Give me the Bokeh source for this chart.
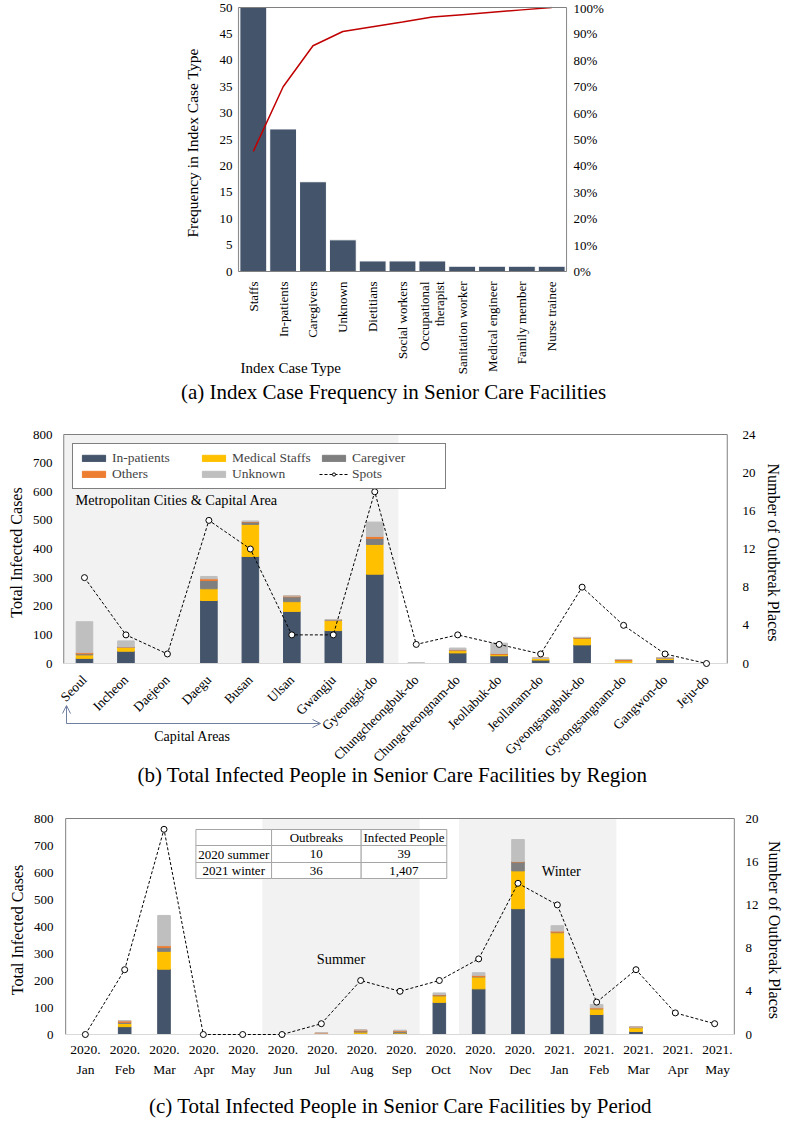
import math
from bokeh.plotting import figure
from bokeh.models import (Range1d, LinearAxis, FixedTicker, PrintfTickFormatter,
                          Arrow, OpenHead, BoxAnnotation, ColumnDataSource)
from bokeh.core.properties import value
from bokeh.embed import file_html
from bokeh.resources import INLINE

FONT = "Liberation Serif"

# ---------------- data: panel (a) ----------------
index_types = ["Staffs", "In-patients", "Caregivers", "Unknown", "Dietitians", "Social workers",
               "Occupational\ntherapist", "Sanitation worker", "Medical engineer", "Family member",
               "Nurse trainee"]
index_freq = [50, 27, 17, 6, 2, 2, 2, 1, 1, 1, 1]
index_cum_pct = [45.5, 70.0, 85.5, 90.9, 92.7, 94.5, 96.4, 97.3, 98.2, 99.1, 100.0]

# ---------------- data: panel (b) ----------------
regions = ["Seoul", "Incheon", "Daejeon", "Daegu", "Busan", "Ulsan", "Gwangju", "Gyeonggi-do",
           "Chungcheongbuk-do", "Chungcheongnam-do", "Jeollabuk-do", "Jeollanam-do",
           "Gyeongsangbuk-do", "Gyeongsangnam-do", "Gangwon-do", "Jeju-do"]
reg_inpatients = [18, 43, 0, 220, 374, 182, 115, 312, 0, 37, 27, 12, 65, 0, 14, 0]
reg_staffs = [12, 13, 0, 41, 112, 34, 35, 104, 0, 8, 5, 6, 24, 10, 4, 0]
reg_caregiver = [4, 2, 0, 29, 8, 17, 3, 21, 0, 2, 0, 0, 0, 0, 2, 0]
reg_others = [4, 0, 0, 6, 2, 3, 0, 7, 0, 1, 3, 0, 2, 4, 0, 0]
reg_unknown = [108, 21, 0, 8, 2, 0, 0, 50, 3, 6, 36, 0, 0, 0, 0, 0]
reg_spots = [9, 3, 1, 15, 12, 3, 3, 18, 2, 3, 2, 1, 8, 4, 1, 0]

# ---------------- data: panel (c) ----------------
months = ["2020.\nJan", "2020.\nFeb", "2020.\nMar", "2020.\nApr", "2020.\nMay", "2020.\nJun",
          "2020.\nJul", "2020.\nAug", "2020.\nSep", "2020.\nOct", "2020.\nNov", "2020.\nDec",
          "2021.\nJan", "2021.\nFeb", "2021.\nMar", "2021.\nApr", "2021.\nMay"]
mon_inpatients = [0, 29, 242, 0, 0, 0, 0, 3, 5, 119, 169, 466, 284, 74, 11, 0, 0]
mon_staffs = [0, 12, 66, 0, 0, 0, 0, 6, 2, 24, 44, 140, 93, 21, 14, 0, 0]
mon_caregiver = [0, 4, 14, 0, 0, 0, 0, 4, 5, 3, 2, 33, 2, 1, 3, 0, 0]
mon_others = [0, 6, 7, 0, 0, 0, 6, 4, 2, 2, 4, 2, 4, 3, 0, 0, 0]
mon_unknown = [0, 0, 112, 0, 0, 0, 0, 0, 2, 6, 10, 81, 20, 12, 0, 0, 0]
mon_spots = [0, 6, 19, 0, 0, 0, 1, 5, 4, 5, 7, 14, 12, 3, 6, 2, 1]

table_header = ["", "Outbreaks", "Infected People"]
table_periods = ["2020 summer", "2021 winter"]
table_outbreaks = ["10", "36"]
table_infected = ["39", "1,407"]

cat_labels = ["In-patients", "Medical Staffs", "Caregiver", "Others", "Unknown"]
cat_colors = ["#44546A", "#FFC000", "#7F7F7F", "#ED7D31", "#BFBFBF"]
BAR_A = "#44546A"
LINE_A = "#C00000"
SHADE = "#F2F2F2"
ARROW_C = "#6F7FA0"
FRAME_C = "#808080"
BASE_C = "#D9D9D9"

W = 785
PAD = 0.03   # x-range padding (data units) so the drawn frame box stays visible


def style_axis(ax, size="13px", standoff=5):
    ax.major_label_text_font = FONT
    ax.major_label_text_font_size = size
    ax.major_label_text_color = "black"
    ax.major_tick_line_color = None
    ax.minor_tick_line_color = None
    ax.major_tick_out = 0
    ax.major_tick_in = 0
    ax.minor_tick_out = 0
    ax.minor_tick_in = 0
    ax.axis_line_color = None
    ax.major_label_standoff = standoff
    ax.axis_label_text_font = FONT
    ax.axis_label_text_font_style = "normal"
    ax.axis_label_text_color = "black"


def gtext(p, xs, ys, texts, size, align="center", baseline="middle", angle=0.0):
    p.text(x=xs, y=ys, text=texts, text_font=value(FONT), text_font_size=size,
           text_align=align, text_baseline=baseline, angle=angle, text_color="black")


def plain(p):
    p.grid.grid_line_color = None
    p.outline_line_color = None
    p.background_fill_color = "white"
    p.border_fill_color = "white"


class Panel:
    """A chart panel made of two stacked figures: 'top' holds the plot area with its
    y axes, 'bot' (full-width frame, y in pixels from its top) holds the texts below."""

    def __init__(self, top_h, bot_h, left, right, top_px, zero_px, n, ymax, rmax, rname):
        self.left, self.n = left, n
        self.ppx = (W - left - right) / (n + 2 * PAD)
        self.zero_px = zero_px
        self.ppy = (zero_px - top_px) / ymax
        ystart = -(top_h - zero_px) / self.ppy
        yend = ymax + 1.0 / self.ppy
        x0, x1 = -0.5 - PAD, n - 0.5 + PAD
        self.top = figure(width=W, height=top_h, output_backend="svg", toolbar_location=None,
                          x_range=Range1d(x0, x1), y_range=Range1d(ystart, yend),
                          x_axis_location=None, y_axis_location="left",
                          min_border_left=left, min_border_right=right,
                          min_border_top=top_px - 1, min_border_bottom=0)
        plain(self.top)
        k = rmax / ymax
        self.top.extra_y_ranges = {rname: Range1d(ystart * k, yend * k)}
        self.bot = figure(width=W, height=bot_h, output_backend="svg", toolbar_location=None,
                          x_range=Range1d(x0 - left / self.ppx, x1 + right / self.ppx),
                          y_range=Range1d(bot_h, 0), x_axis_location=None,
                          y_axis_location=None, min_border=0, min_border_left=0,
                          min_border_right=0, min_border_top=0, min_border_bottom=0)
        plain(self.bot)

    def x(self, px):
        return -0.5 - PAD + (px - self.left) / self.ppx

    def y(self, px):
        return (self.zero_px - px) / self.ppy

    def dx(self, dpx):
        return dpx / self.ppx


# ======================= panel (a) =======================
n_a = len(index_types)
A = Panel(279, 125, 237, W - 567, 7, 271, n_a, 50, 100, "pct")
pa = A.top
xa = list(range(n_a))
pa.vbar(x=xa, top=index_freq, width=0.9, fill_color=BAR_A, line_color="white", line_width=1)
pa.line(x=xa, y=index_cum_pct, y_range_name="pct", line_color=LINE_A, line_width=1.5)
pa.quad(left=[-0.5], right=[n_a - 0.5], bottom=[0], top=[50], fill_color=None,
        line_color=FRAME_C, line_width=1)

ya = pa.yaxis[0]
ya.ticker = FixedTicker(ticks=list(range(0, 51, 5)))
style_axis(ya, "13px", 5)
ya.axis_label = "Frequency in Index Case Type"
ya.axis_label_text_font_size = "15.5px"
ya.axis_label_standoff = 16

ar = LinearAxis(y_range_name="pct", ticker=FixedTicker(ticks=list(range(0, 101, 10))),
                formatter=PrintfTickFormatter(format="%d%%"))
style_axis(ar, "13px", 6)
pa.add_layout(ar, "right")

qa = A.bot
lx, ly, lt = [], [], []
for i, t in enumerate(index_types):
    lines = t.split("\n")
    k = len(lines)
    for j, s in enumerate(lines):
        lx.append(i + A.dx((j - (k - 1) / 2) * 15))
        ly.append(2)
        lt.append(s)
gtext(qa, lx, ly, lt, "13px", align="right", baseline="middle", angle=math.pi / 2)
gtext(qa, [A.x(240)], [88], ["Index Case Type"], "15px", align="left")
gtext(qa, [A.x(393)], [112], ["(a) Index Case Frequency in Senior Care Facilities"], "21px")

# ======================= panel (b) =======================
n_b = len(regions)
B = Panel(267, 129, 62, W - 728, 30, 259, n_b, 800, 24, "spots")
pb = B.top
pb.add_layout(BoxAnnotation(left=-0.5, right=7.57, bottom=0, top=800, fill_color=SHADE,
                            fill_alpha=1, line_color=None, level="underlay"))
src_b = ColumnDataSource(dict(x=list(range(n_b)), inp=reg_inpatients, stf=reg_staffs,
                              cg=reg_caregiver, oth=reg_others, unk=reg_unknown))
pb.vbar_stack(["inp", "stf", "cg", "oth", "unk"], x="x", width=0.4, color=cat_colors,
              source=src_b, legend_label=cat_labels)
pb.segment(x0=[-0.5, n_b - 0.5, -0.5], y0=[0, 0, 800], x1=[-0.5, n_b - 0.5, n_b - 0.5],
           y1=[800, 800, 800], line_color=FRAME_C, line_width=1)
pb.segment(x0=[-0.5], y0=[0], x1=[n_b - 0.5], y1=[0], line_color=BASE_C, line_width=1)
pb.line(x=list(range(n_b)), y=reg_spots, y_range_name="spots", line_color="black",
        line_dash="3 2", line_width=1, legend_label="Spots")
pb.scatter(x=list(range(n_b)), y=reg_spots, y_range_name="spots", marker="circle", size=6,
           fill_color="white", line_color="black", line_width=1, legend_label="Spots")

yb = pb.yaxis[0]
yb.ticker = FixedTicker(ticks=list(range(0, 801, 100)))
style_axis(yb, "13px", 10)
yb.axis_label = "Total Infected Cases"
yb.axis_label_text_font_size = "16px"
yb.axis_label_standoff = 5

rb = LinearAxis(y_range_name="spots", ticker=FixedTicker(ticks=list(range(0, 25, 4))))
style_axis(rb, "13px", 14)
rb.axis_label = "Number of Outbreak Places"
rb.axis_label_text_font_size = "16px"
rb.axis_label_standoff = 6
pb.add_layout(rb, "right")

lg = pb.legend[0]
lg.location = "top_left"
lg.orientation = "horizontal"
lg.ncols = 3
lg.border_line_color = "black"
lg.border_line_width = 1
lg.background_fill_color = "white"
lg.background_fill_alpha = 1
lg.label_text_font = FONT
lg.label_text_font_size = "13.5px"
lg.glyph_width = 29
lg.glyph_height = 8
lg.label_width = 87
lg.label_height = 15
lg.label_standoff = 4
lg.spacing = 0
lg.padding = 6
lg.margin = 10

gtext(pb, [B.x(75)], [B.y(95)], ["Metropolitan Cities & Capital Area"], "14.3px",
      align="left")

qb = B.bot
gtext(qb, list(range(n_b)), [6] * n_b, regions, "13.5px", align="right",
      baseline="middle", angle=math.pi / 4)
qb.add_layout(Arrow(end=OpenHead(size=8, line_color=ARROW_C, line_width=1),
                    x_start=B.x(66), y_start=52, x_end=B.x(66), y_end=34,
                    line_color=ARROW_C, line_width=1))
qb.add_layout(Arrow(end=OpenHead(size=8, line_color=ARROW_C, line_width=1),
                    x_start=B.x(66), y_start=52, x_end=B.x(320), y_end=52,
                    line_color=ARROW_C, line_width=1))
gtext(qb, [B.x(192)], [65], ["Capital Areas"], "14px")
gtext(qb, [B.x(392)], [103],
      ["(b) Total Infected People in Senior Care Facilities by Region"], "21px")

# ======================= panel (c) =======================
n_c = len(months)
C = Panel(242, 76, 64, W - 738, 18, 234, n_c, 800, 20, "spots")
pc = C.top
pc.add_layout(BoxAnnotation(left=4.5, right=8.5, bottom=0, top=800, fill_color=SHADE,
                            fill_alpha=1, line_color=None, level="underlay"))
pc.add_layout(BoxAnnotation(left=9.5, right=13.5, bottom=0, top=800, fill_color=SHADE,
                            fill_alpha=1, line_color=None, level="underlay"))
src_c = ColumnDataSource(dict(x=list(range(n_c)), inp=mon_inpatients, stf=mon_staffs,
                              cg=mon_caregiver, oth=mon_others, unk=mon_unknown))
pc.vbar_stack(["inp", "stf", "cg", "oth", "unk"], x="x", width=0.32, color=cat_colors,
              source=src_c)
pc.segment(x0=[-0.5, n_c - 0.5, -0.5], y0=[0, 0, 800], x1=[-0.5, n_c - 0.5, n_c - 0.5],
           y1=[800, 800, 800], line_color=FRAME_C, line_width=1)
pc.segment(x0=[-0.5], y0=[0], x1=[n_c - 0.5], y1=[0], line_color=BASE_C, line_width=1)
pc.line(x=list(range(n_c)), y=mon_spots, y_range_name="spots", line_color="black",
        line_dash="3 2", line_width=1)
pc.scatter(x=list(range(n_c)), y=mon_spots, y_range_name="spots", marker="circle", size=6,
           fill_color="white", line_color="black", line_width=1)

yc = pc.yaxis[0]
yc.ticker = FixedTicker(ticks=list(range(0, 801, 100)))
style_axis(yc, "13px", 11)
yc.axis_label = "Total Infected Cases"
yc.axis_label_text_font_size = "16px"
yc.axis_label_standoff = 5

rc = LinearAxis(y_range_name="spots", ticker=FixedTicker(ticks=list(range(0, 21, 4))))
style_axis(rc, "13px", 10)
rc.axis_label = "Number of Outbreak Places"
rc.axis_label_text_font_size = "16px"
rc.axis_label_standoff = 4
pc.add_layout(rc, "right")

# summary table
col_px = [196, 272, 362, 448]
row_px = [829, 845, 862, 878]
col_edges = [C.x(v) for v in col_px]
row_edges = [C.y(v - 800) for v in row_px]
cells_l, cells_r, cells_t, cells_b = [], [], [], []
for r in range(3):
    for c in range(3):
        cells_l.append(col_edges[c])
        cells_r.append(col_edges[c + 1])
        cells_t.append(row_edges[r])
        cells_b.append(row_edges[r + 1])
pc.quad(left=cells_l, right=cells_r, top=cells_t, bottom=cells_b, fill_color="white",
        line_color="#A6A6A6", line_width=1)
table_rows = [table_header] + [[table_periods[i], table_outbreaks[i], table_infected[i]]
                               for i in range(len(table_periods))]
tx, ty, tt = [], [], []
for r, row in enumerate(table_rows):
    for c, txt in enumerate(row):
        if txt:
            tx.append((col_edges[c] + col_edges[c + 1]) / 2)
            ty.append((row_edges[r] + row_edges[r + 1]) / 2)
            tt.append(txt)
gtext(pc, tx, ty, tt, "13px")
gtext(pc, [6.5], [C.y(158)], ["Summer"], "14.3px")
gtext(pc, [C.x(563)], [C.y(70)], ["Winter"], "14.3px")

qc = C.bot
years = [m.split("\n")[0] for m in months]
mnames = [m.split("\n")[1] for m in months]
gtext(qc, list(range(n_c)), [3] * n_c, years, "13.5px", baseline="top")
gtext(qc, list(range(n_c)), [19] * n_c, mnames, "13.5px", baseline="top")
gtext(qc, [C.x(400)], [63],
      ["(c) Total Infected People in Senior Care Facilities by Period"], "21px")

open("out.html", "w").write(file_html([pa, qa, pb, qb, pc, qc], INLINE))
